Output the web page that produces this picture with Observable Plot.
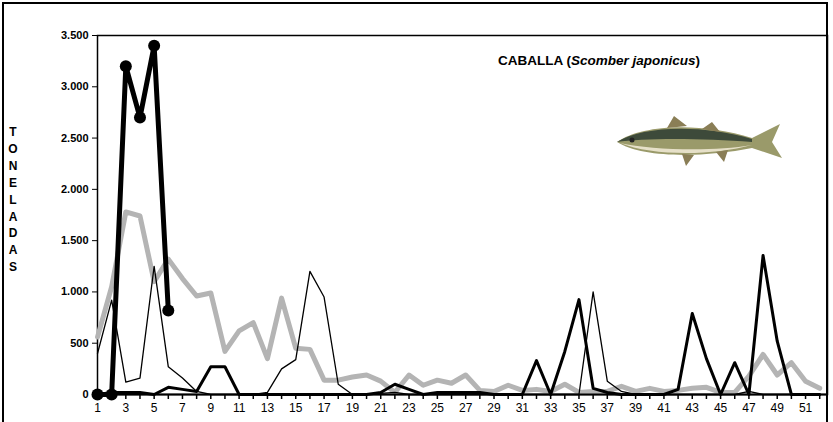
<!DOCTYPE html>
<html><head><meta charset="utf-8">
<script src="https://cdn.jsdelivr.net/npm/d3@7"></script>
<script src="https://cdn.jsdelivr.net/npm/@observablehq/plot@0.6"></script>
<style>
body{margin:0;background:#fff;font-family:"Liberation Sans",Arial,sans-serif}
#wrap{position:relative;width:833px;height:422px}
#border{position:absolute;left:2px;top:2px;width:826px;height:440px;border:2px solid #000;box-sizing:border-box}
#title{position:absolute;left:498px;top:53px;font-weight:bold;font-size:13.5px}
#ylab{position:absolute;left:5px;top:124px;width:16px;text-align:center;font-weight:bold;font-size:12px;line-height:16.9px}
#fish{position:absolute;left:612px;top:112px}
</style></head><body>
<div id="wrap"><div id="chart"></div><div id="border"></div>
<div id="title">CABALLA (<i>Scomber japonicus</i>)</div>
<div id="ylab">T<br>O<br>N<br>E<br>L<br>A<br>D<br>A<br>S</div>
<svg id="fish" width="175" height="60" viewBox="0 0 175 60">
<path d="M5,30 C30,12 90,10 140,26 L168,12 L160,30 L170,46 L140,36 C90,46 30,46 5,30Z" fill="#9a9a6a"/>
<path d="M5,30 C30,14 90,12 140,27 L140,30 C90,26 30,26 5,30Z" fill="#3d4a3a"/>
<path d="M8,31 C40,38 100,40 140,33 C100,44 40,44 8,31Z" fill="#e6e0c8"/>
<path d="M55,16 L62,4 L75,14Z M90,17 L100,10 L108,20Z M70,42 L74,54 L82,43Z M104,40 L112,50 L116,38Z" fill="#8a7e56"/>
<circle cx="20" cy="28" r="2.5" fill="#222"/>
</svg>
</div>
<script>
const weeks = d3.range(1, 53);
const current = [0, 0, 3200, 2700, 3400, 820];
const seriesB = [0,20,20,20,0,70,50,30,270,270,0,0,0,0,0,0,0,0,0,0,20,100,50,0,20,20,20,20,0,0,0,330,0,420,925,60,20,0,0,0,0,50,790,350,0,310,0,1355,520,0,0,0];
const seriesC = [400,920,120,160,1250,270,160,30,0,0,0,0,20,250,340,1200,950,100,0,0,10,20,0,0,0,0,0,0,0,0,0,0,0,0,0,1000,130,30,0,0,0,0,0,0,0,0,30,0,0,0,0,0];
const seriesG = [560,1050,1780,1740,1100,1320,1130,960,990,420,620,700,350,940,450,440,140,140,170,190,130,20,190,90,140,110,190,40,30,90,40,50,30,100,20,30,30,80,30,60,30,40,60,70,20,20,180,390,190,310,130,60];
const yTicks = [0,500,1000,1500,2000,2500,3000,3500];
const fmt = d => d3.format(",")(d).replace(/,/g, ".");
const rows = arr => arr.map((v, i) => ({w: weeks[i], v}));
const plot = Plot.plot({
  width: 833, height: 422,
  marginLeft: 97, marginTop: 35, marginBottom: 28, marginRight: 6,
  style: {fontFamily: "Liberation Sans, Arial", fontSize: "12px"},
  x: {domain: [1, 52.55], ticks: weeks, tickFormat: d => d % 2 ? d : "", tickSize: 5, label: null},
  y: {domain: [0, 3500], ticks: yTicks, tickFormat: fmt, tickSize: 5, label: null},
  marks: [
    Plot.frame({strokeWidth: 1.5}),
    Plot.axisY({ticks: yTicks, tickFormat: fmt, fontWeight: "bold", fontSize: 11, tickSize: 5}),
    Plot.axisX({ticks: weeks, tickFormat: d => d % 2 ? d : "", fontSize: 12, tickSize: 5, strokeWidth: 1.5}),
    Plot.lineY(rows(seriesG), {x: "w", y: "v", stroke: "#b4b4b4", strokeWidth: 5}),
    Plot.lineY(rows(seriesC), {x: "w", y: "v", stroke: "#000", strokeWidth: 1.3}),
    Plot.lineY(rows(seriesB), {x: "w", y: "v", stroke: "#000", strokeWidth: 3}),
    Plot.lineY(rows(current), {x: "w", y: "v", stroke: "#000", strokeWidth: 5}),
    Plot.dot(rows(current), {x: "w", y: "v", r: 6, fill: "#000"}),
    Plot.ruleY([0], {strokeWidth: 2})
  ]
});
document.getElementById("chart").appendChild(plot);
</script>
</body></html>
